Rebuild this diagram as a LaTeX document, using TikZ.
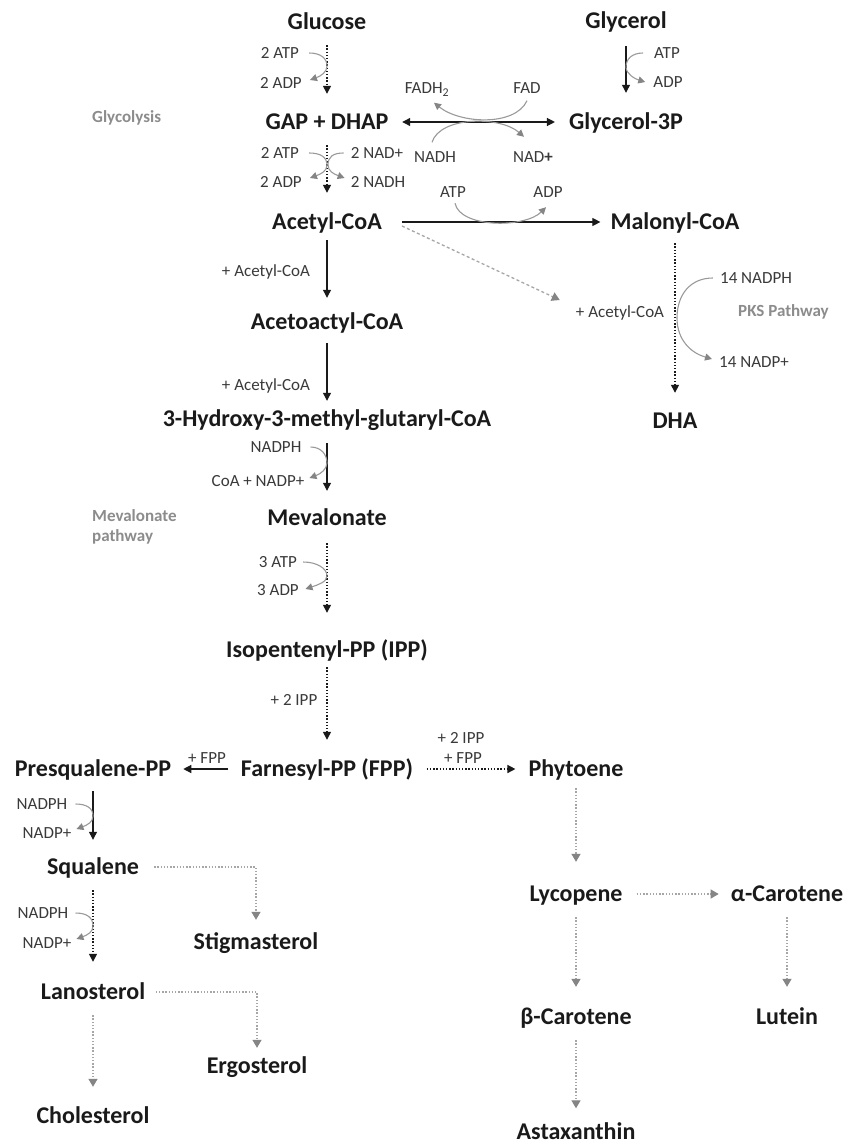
\documentclass[tikz,border=0pt]{standalone}
\usepackage{fontspec}
\setmainfont{Carlito}
\usetikzlibrary{arrows.meta,calc}
\definecolor{txt}{HTML}{1A1A1A}
\definecolor{lbl}{HTML}{3A3A3A}
\definecolor{glbl}{HTML}{8C8C8C}
\definecolor{gline}{HTML}{A6A6A6}
\definecolor{ghead}{HTML}{858585}
\definecolor{sline}{HTML}{9A9A9A}
\begin{document}
\begin{tikzpicture}[x=1pt,y=-1pt,
 met/.style={font=\bfseries\fontsize{24}{28}\selectfont, text=txt, inner sep=0pt, text height=15pt, text depth=0pt},
 lab/.style={font=\fontsize{17}{20}\selectfont, text=lbl, inner sep=0pt, text height=11pt, text depth=0pt},
 glab/.style={font=\bfseries\fontsize{17}{20}\selectfont, text=glbl, inner sep=0pt, align=left},
 conv/.style={draw=txt, line width=1.2pt, -{Triangle[length=8pt,width=8pt]}},
 dconv/.style={conv, line width=1.4pt, dash pattern=on 1.4pt off 1.8pt},
 gconv/.style={draw=gline, line width=1.3pt, dash pattern=on 1.4pt off 1.8pt, -{Triangle[length=8pt,width=9pt,color=ghead]}},
 gdash/.style={gconv, dash pattern=on 3pt off 2.5pt},
 side/.style={draw=sline, line width=1.1pt, -{Triangle[length=7pt,width=7pt,color=ghead]}},
]
\fill[white] (0,0) rectangle (849,1148);
\useasboundingbox (0,0) rectangle (849,1148);

% metabolites
\node[met] (glucose) at (327,22) {Glucose};
\node[met] (glycerol) at (626,21) {Glycerol};
\node[met] (gap) at (327,122) {GAP + DHAP};
\node[met] (g3p) at (626,122) {Glycerol-3P};
\node[met] (acetyl) at (327,222) {Acetyl-CoA};
\node[met] (malonyl) at (675,222) {Malonyl-CoA};
\node[met] (acetoac) at (327,322) {Acetoactyl-CoA};
\node[met] (hmg) at (327,419) {3-Hydroxy-3-methyl-glutaryl-CoA};
\node[met] (dha) at (675,421) {DHA};
\node[met] (mev) at (327,518) {Mevalonate};
\node[met] (ipp) at (327,650) {Isopentenyl-PP (IPP)};
\node[met] (fpp) at (327,769) {Farnesyl-PP (FPP)};
\node[met] (presq) at (93,769) {Presqualene-PP};
\node[met] (phyt) at (576,769) {Phytoene};
\node[met] (squal) at (93,867) {Squalene};
\node[met] (stig) at (256,942) {Stigmasterol};
\node[met] (lano) at (93,992) {Lanosterol};
\node[met] (ergo) at (257,1066) {Ergosterol};
\node[met] (chol) at (93,1116) {Cholesterol};
\node[met] (lyco) at (576,894) {Lycopene};
\node[met] (acar) at (787,894) {α-Carotene};
\node[met] (bcar) at (576,1017) {β-Carotene};
\node[met] (lutein) at (787,1017) {Lutein};
\node[met] (astax) at (576,1132) {Astaxanthin};

% small labels
\node[lab] (atp1) at (280,53) {2 ATP};
\node[lab] (adp1) at (281,83) {2 ADP};
\node[lab] (atp2) at (280,153) {2 ATP};
\node[lab] (adp2) at (281,182) {2 ADP};
\node[lab] (nad2) at (377,153) {2 NAD+};
\node[lab] (nadh2) at (378,182) {2 NADH};
\node[lab] (atpg) at (667,53) {ATP};
\node[lab] (adpg) at (668,82) {ADP};
\node[lab] (fadh) at (427,88) {FADH\textsubscript{2}};
\node[lab] (fad) at (527,88) {FAD};
\node[lab] (nadh) at (435,157) {NADH};
\node[lab] (nadp) at (533,157) {NAD\textbf{+}};
\node[lab] (atpm) at (453,192) {ATP};
\node[lab] (adpm) at (548,192) {ADP};
\node[lab] (acoa1) at (266,271) {+ Acetyl-CoA};
\node[lab] (acoa3) at (266,385) {+ Acetyl-CoA};
\node[lab] (acoa2) at (620,312) {+ Acetyl-CoA};
\node[lab] (nadph14) at (756,278) {14 NADPH};
\node[lab] (nadp14) at (754,362) {14 NADP+};
\node[lab] (nadph3) at (276,447) {NADPH};
\node[lab] (coanadp) at (258,481) {CoA + NADP+};
\node[lab] (atp3) at (278,562) {3 ATP};
\node[lab] (adp3) at (278,590) {3 ADP};
\node[lab] (ipp2) at (294,700) {+ 2 IPP};
\node[lab] (fppl) at (207,758) {+ FPP};
\node[lab] (ipp2r) at (461,738) {+ 2 IPP};
\node[lab] (fppr) at (463,758) {+ FPP};
\node[lab] (nadph4) at (42,804) {NADPH};
\node[lab] (nadp4) at (47,833) {NADP+};
\node[lab] (nadph5) at (43,913) {NADPH};
\node[lab] (nadp5) at (47,943) {NADP+};

% gray pathway labels
\node[glab, anchor=west] (glyc) at (92,118) {Glycolysis};
\node[glab, anchor=west] (mevp) at (92,527) {Mevalonate\\pathway};
\node[glab, anchor=west] (pks) at (738,312) {PKS Pathway};

% main conversions
\draw[dconv, shorten <=15.5pt, shorten >=20.5pt] (glucose) -- (gap);
\draw[conv, shorten <=17.5pt, shorten >=21.5pt] (glycerol) -- (g3p);
\draw[draw=txt, line width=1.2pt, {Triangle[length=8pt,width=8pt]}-{Triangle[length=8pt,width=8pt]}, shorten <=13.5pt, shorten >=14pt] (gap) -- (g3p);
\draw[dconv, shorten <=15.5pt, shorten >=21.5pt] (gap) -- (acetyl);
\draw[conv, shorten <=20pt, shorten >=10pt] (acetyl) -- (malonyl);
\draw[gdash] ($(acetyl.east)+(20,4)$) -- ($(acoa2.west)+(-16,-12)$);
\draw[conv, shorten <=10.5pt, shorten >=16.5pt] (acetyl) -- (acetoac);
\draw[conv, shorten <=13.5pt, shorten >=10.5pt] (acetoac) -- (hmg);
\draw[conv, shorten <=16.5pt, shorten >=19.5pt] (hmg) -- (mev);
\draw[dconv, shorten <=17.5pt, shorten >=29.5pt] (mev) -- (ipp);
\draw[dconv, shorten <=9.5pt, shorten >=21.5pt] (ipp) -- (fpp);
\draw[conv, shorten <=12.5pt, shorten >=12pt] (fpp) -- (presq);
\draw[dconv, shorten <=13.5pt, shorten >=13pt] (fpp) -- (phyt);
\draw[conv, shorten <=14.5pt, shorten >=19.5pt] (presq) -- (squal);
\draw[dconv, shorten <=15.5pt, shorten >=22.5pt] (squal) -- (lano);
\draw[gconv, shorten <=15.5pt, shorten >=21.5pt] (lano) -- (chol);
\draw[gconv, shorten <=15pt, shorten >=14.5pt] (squal) -| (stig);
\draw[gconv, shorten <=10.5pt, shorten >=10.5pt] (lano) -| (ergo);
\draw[gconv, shorten <=11.5pt, shorten >=24.5pt] (phyt) -- (lyco);
\draw[gconv, shorten <=14pt, shorten >=12pt] (lyco) -- (acar);
\draw[gconv, shorten <=15.5pt, shorten >=22.5pt] (lyco) -- (bcar);
\draw[gconv, shorten <=15.5pt, shorten >=22.5pt] (acar) -- (lutein);
\draw[gconv, shorten <=15.5pt, shorten >=16pt] (bcar) -- (astax);
\draw[dconv, shorten <=13.5pt, shorten >=20.5pt] (malonyl) -- (dha);

% points where co-substrate curves touch the main arrows
\coordinate (m1) at (327,66);
\coordinate (m2) at (327,165);
\coordinate (m3) at (328,165);
\coordinate (mg) at (626,67);
\coordinate (md) at (677,318);
\coordinate (m4) at (327,463);
\coordinate (m5) at (327,576);
\coordinate (m6) at (93,816);
\coordinate (m7) at (93,926);

% co-substrate curves
\draw[side] ([xshift=10pt]atp1.east) .. controls +(11,0) and +(0,-8) .. (m1) .. controls +(0,6) and +(11,-4) .. ([xshift=8pt,yshift=3pt]adp1.east);
\draw[side] ([xshift=10pt]atp2.east) .. controls +(11,0) and +(0,-8) .. (m2) .. controls +(0,6) and +(11,-4) .. ([xshift=8pt,yshift=4pt]adp2.east);
\draw[side] ([xshift=-7pt]nad2.west) .. controls +(-11,0) and +(0,-8) .. (m3) .. controls +(0,6) and +(-11,-4) .. ([xshift=-6pt,yshift=4pt]nadh2.west);
\draw[side] ([xshift=-11pt]atpg.west) .. controls +(-11,0) and +(0,-8) .. (mg) .. controls +(0,7) and +(-10,-3) .. ([xshift=-8pt]adpg.west);
\draw[side] ([yshift=-7pt]fad.south) .. controls +(-12,26) and +(26,21) .. ([xshift=7pt,yshift=-9pt]fadh.south);
\draw[side] ([xshift=-3pt,yshift=9pt]nadh.north) .. controls +(8,-26) and +(-24,-21) .. ([xshift=-9pt,yshift=14.5pt]nadp.north);
\draw[side] ([xshift=2pt,yshift=-5.5pt]atpm.south) .. controls +(5,25) and +(-21,21) .. ([xshift=-2pt,yshift=-9.5pt]adpm.south);
\draw[side] ([xshift=-7pt]nadph14.west) .. controls +(-23,0) and +(0,-23) .. (md) .. controls +(0,22) and +(-21,-6) .. ([xshift=-7pt,yshift=3pt]nadp14.west);
\draw[side] ([xshift=9pt]nadph3.east) .. controls +(11,0) and +(0,-8) .. (m4) .. controls +(0,6) and +(11,-4) .. ([xshift=5pt,yshift=3pt]coanadp.east);
\draw[side] ([xshift=6pt]atp3.east) .. controls +(13,0) and +(0,-8) .. (m5) .. controls +(0,6) and +(12,-4) .. ([xshift=6.5pt,yshift=1pt]adp3.east);
\draw[side] ([xshift=8pt]nadph4.east) .. controls +(11,0) and +(0,-8) .. (m6) .. controls +(0,6) and +(11,-4) .. ([xshift=5pt,yshift=4pt]nadp4.east);
\draw[side] ([xshift=7pt]nadph5.east) .. controls +(12,0) and +(0,-8) .. (m7) .. controls +(0,6) and +(11,-4) .. ([xshift=5pt,yshift=4pt]nadp5.east);
\end{tikzpicture}
\end{document}
